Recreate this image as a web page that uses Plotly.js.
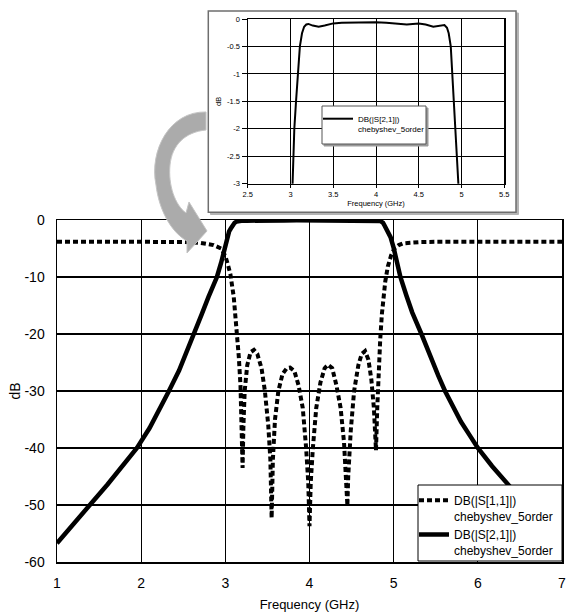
<!DOCTYPE html>
<html>
<head>
<meta charset="utf-8">
<script src="https://cdn.plot.ly/plotly-3.0.1.min.js"></script>
<style>html,body{margin:0;padding:0;background:#fff;}#chart{width:568px;height:614px;}</style>
</head>
<body>
<div id="chart"></div>
<script>
// ---- Data ----
const freqS21 = [1.0, 1.2, 1.39, 1.6, 1.8, 1.95, 2.1, 2.2, 2.33, 2.45, 2.55, 2.63, 2.72, 2.8, 2.85, 2.9, 2.95, 2.98,
  3.0, 3.02, 3.045, 3.065, 3.085, 3.11, 3.135, 3.16, 3.185, 3.21, 3.26, 3.33, 3.4, 3.5, 3.6, 3.7, 3.85, 4.0,
  4.12, 4.24, 4.36, 4.5, 4.58, 4.67, 4.74, 4.8, 4.83, 4.85, 4.874, 4.893, 4.91, 4.925, 4.945, 4.963,
  5.0, 5.04, 5.08, 5.15, 5.22, 5.33, 5.45, 5.53, 5.61, 5.7, 5.8, 5.9, 6.0, 6.17, 6.34, 6.5, 6.67, 6.84, 7.0];
const s21 = [-56.7, -53.4, -50, -46.4, -42.8, -40, -36.5, -33.8, -30, -26.4, -22.9, -20, -16.5, -13.5, -11.8, -10, -7.5, -5.6,
  -4.2, -3.0, -2.0, -1.5, -1.0, -0.5, -0.26, -0.14, -0.1, -0.09, -0.12, -0.14, -0.12, -0.08, -0.07, -0.067, -0.065, -0.06,
  -0.07, -0.09, -0.1, -0.08, -0.1, -0.14, -0.13, -0.11, -0.16, -0.26, -0.5, -1.0, -1.5, -2.0, -2.5, -3.0,
  -4.9, -7.3, -10, -13.2, -16.2, -20, -24.6, -27.3, -30, -32.7, -35.4, -37.7, -40, -43.2, -46.1, -48.9, -51.8, -54.6, -57.2];

const freqS11 = [1.0, 1.5, 2.0, 2.5, 2.7, 2.86, 2.95, 3.0, 3.03, 3.06, 3.1, 3.13, 3.16, 3.18, 3.195, 3.205,
  3.215, 3.23, 3.26, 3.3, 3.34, 3.38, 3.43, 3.47, 3.51, 3.535, 3.55, 3.565, 3.59, 3.63, 3.68, 3.73, 3.77,
  3.82, 3.87, 3.92, 3.96, 3.985, 4.0, 4.015, 4.04, 4.08, 4.13, 4.18, 4.22, 4.27, 4.32, 4.37, 4.41, 4.44, 4.45,
  4.46, 4.49, 4.53, 4.58, 4.62, 4.66, 4.7, 4.735, 4.765, 4.79, 4.805, 4.82, 4.84, 4.86, 4.88, 4.9, 4.93, 4.97,
  5.01, 5.06, 5.11, 5.2, 5.31, 5.5, 6.0, 6.5, 7.0];
const s11 = [-3.8, -3.8, -3.8, -3.85, -4.0, -4.4, -5.0, -6.3, -7.8, -9.5, -13.5, -18.5, -24, -29, -35, -43.5,
  -36, -30, -25.5, -23.2, -22.8, -23.5, -26, -30, -36, -42, -52.3, -42, -35, -30, -27, -26, -25.9,
  -26.5, -29, -33, -40, -46, -53.7, -46, -40, -33, -28.5, -26, -25.4, -26, -29, -33, -39, -46, -50.1,
  -45, -37, -30, -25.5, -23.5, -23, -24.5, -28, -33, -40.4, -33, -26, -21, -16.5, -13, -10.8, -8.2, -6.2,
  -5.0, -4.4, -4.1, -3.95, -3.88, -3.82, -3.8, -3.8, -3.8];

const mainXTicks = [1, 2, 3, 4, 5, 6, 7];
const mainXLabels = ["1", "2", "3", "4", "5", "6", "7"];
const mainYTicks = [0, -10, -20, -30, -40, -50, -60];
const mainYLabels = ["0", "-10", "-20", "-30", "-40", "-50", "-60"];
const insetXTicks = [2.5, 3, 3.5, 4, 4.5, 5, 5.5];
const insetXLabels = ["2.5", "3", "3.5", "4", "4.5", "5", "5.5"];
const insetYTicks = [0, -0.5, -1, -1.5, -2, -2.5, -3];
const insetYLabels = ["0", "-0.5", "-1", "-1.5", "-2", "-2.5", "-3"];

const nameS11 = "DB(|S[1,1]|)<br>chebyshev_5order";
const nameS21 = "DB(|S[2,1]|)<br>chebyshev_5order";

// ---- Layout geometry (pixels -> paper) ----
const W = 568, H = 614, ML = 57, MR = 6, MT = 5, MB = 52;
const PW = W - ML - MR, PH = H - MT - MB;
const px = v => (v - ML) / PW;
const py = v => (H - MB - v) / PH;

function pathFrom(segs) {
  return segs.map(s => {
    const c = s[0]; const nums = s.slice(1); const out = [];
    for (let i = 0; i < nums.length; i += 2) out.push(px(nums[i]).toFixed(5) + ',' + py(nums[i + 1]).toFixed(5));
    return c + ' ' + out.join(' ');
  }).join(' ') + ' Z';
}
const arrowPath = pathFrom([
  ['M', 206, 112], ['C', 170, 111, 149, 150, 156, 185], ['C', 159, 210, 171, 232, 187, 241],
  ['L', 187, 253], ['L', 207, 231], ['L', 189, 202], ['L', 186, 213],
  ['C', 175, 205, 168, 185, 170, 165], ['C', 172, 145, 185, 132, 206, 130]
]);
function rect(x0, y0, x1, y1, fill, line, lw, layer) {
  return {type: 'rect', xref: 'paper', yref: 'paper', x0: px(x0), x1: px(x1), y0: py(y1), y1: py(y0),
    fillcolor: fill, line: {color: line, width: lw}, layer: layer};
}

const FONT = 'Liberation Sans, Arial, sans-serif';

const traces = [
  {x: freqS11, y: s11, type: 'scatter', mode: 'lines', name: nameS11, xaxis: 'x', yaxis: 'y',
   line: {color: '#000', width: 4, dash: '5px,3px'}, legend: 'legend'},
  {x: freqS21, y: s21, type: 'scatter', mode: 'lines', name: nameS21, xaxis: 'x', yaxis: 'y',
   line: {color: '#000', width: 4.5}, legend: 'legend', cliponaxis: false},
  {x: freqS21, y: s21, type: 'scatter', mode: 'lines', name: nameS21, xaxis: 'x2', yaxis: 'y2',
   line: {color: '#000', width: 2}, legend: 'legend2'}
];

const layout = {
  width: W, height: H,
  margin: {l: ML, r: MR, t: MT, b: MB, pad: 0},
  paper_bgcolor: '#fff', plot_bgcolor: 'rgba(0,0,0,0)',
  font: {family: FONT, color: '#000'},
  showlegend: true,
  xaxis: {domain: [0, 1], range: [1, 7], tickvals: mainXTicks, ticktext: mainXLabels,
    showgrid: true, gridcolor: '#000', gridwidth: 1.3, zeroline: false,
    showline: true, mirror: true, linecolor: '#000', linewidth: 1.5,
    ticks: '', ticklabelstandoff: 8, tickfont: {size: 14, color: '#000'},
    title: {text: 'Frequency (GHz)', font: {size: 13, color: '#000'}, standoff: 9}},
  yaxis: {domain: [0, py(220)], range: [-60, 0], tickvals: mainYTicks, ticktext: mainYLabels,
    showgrid: true, gridcolor: '#000', gridwidth: 1.3, zeroline: false,
    showline: true, mirror: true, linecolor: '#000', linewidth: 1.5,
    ticks: '', ticklabelstandoff: 8, tickfont: {size: 14, color: '#000'},
    title: {text: 'dB', font: {size: 14, color: '#000'}, standoff: 0}},
  xaxis2: {domain: [px(247.7), px(504.3)], range: [2.5, 5.5], anchor: 'y2',
    tickvals: insetXTicks, ticktext: insetXLabels,
    showgrid: true, gridcolor: '#000', gridwidth: 1, zeroline: false,
    showline: true, mirror: true, linecolor: '#000', linewidth: 1.2,
    ticks: 'outside', ticklen: 3, tickcolor: '#000', tickwidth: 1, tickfont: {size: 7.5, color: '#000'},
    title: {text: 'Frequency (GHz)', font: {size: 7.5, color: '#000'}, standoff: 2}},
  yaxis2: {domain: [py(183.7), py(19)], range: [-3, 0], anchor: 'x2',
    tickvals: insetYTicks, ticktext: insetYLabels,
    showgrid: true, gridcolor: '#000', gridwidth: 1, zeroline: false,
    showline: true, mirror: true, linecolor: '#000', linewidth: 1.2,
    ticks: 'outside', ticklen: 5, tickcolor: '#000', tickwidth: 1, tickfont: {size: 7.5, color: '#000'},
    title: {text: 'dB', font: {size: 7.5, color: '#000'}, standoff: 4}},
  legend: {x: px(414), y: py(486), xanchor: 'left', yanchor: 'top', bgcolor: 'rgba(0,0,0,0)',
    borderwidth: 0, font: {size: 12, family: FONT, color: '#000'}, valign: 'top', tracegroupgap: 0, itemwidth: 30},
  legend2: {x: px(318), y: py(107), xanchor: 'left', yanchor: 'top', bgcolor: 'rgba(0,0,0,0)',
    borderwidth: 0, font: {size: 8, family: FONT, color: '#000'}, valign: 'top', itemwidth: 30},
  shapes: [
    rect(210.5, 13, 518.5, 214.5, '#b4b4b4', '#b4b4b4', 1, 'below'),
    rect(208.3, 11, 516, 212.3, '#fff', '#6e6e6e', 1.5, 'below'),
    rect(324, 108, 428, 146, '#9a9a9a', '#9a9a9a', 1, 'above'),
    rect(322, 106, 426, 144, '#fff', '#555', 1, 'above'),
    rect(418, 485, 562, 561, '#fff', '#000', 1, 'above'),
    {type: 'path', xref: 'paper', yref: 'paper', path: arrowPath, fillcolor: '#ababab',
     line: {color: '#c4c4c4', width: 1}, layer: 'above'}
  ]
};

Plotly.newPlot('chart', traces, layout, {displayModeBar: false, staticPlot: true});
</script>
</body>
</html>
